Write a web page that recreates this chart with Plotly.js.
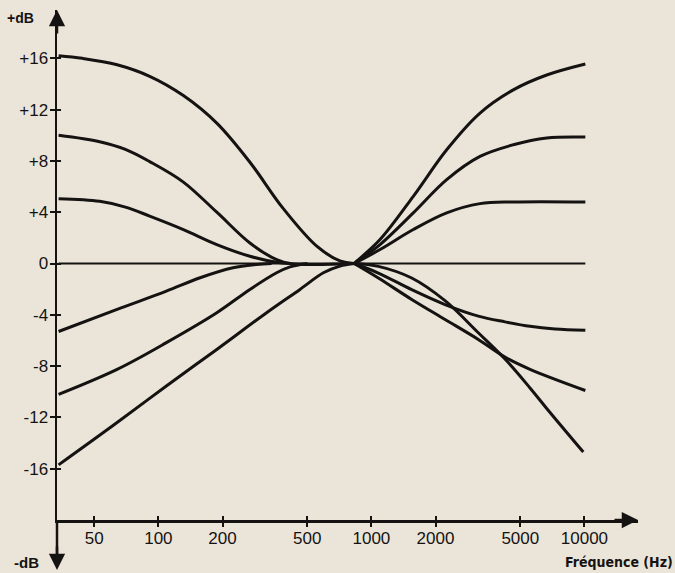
<!DOCTYPE html>
<html>
<head>
<meta charset="utf-8">
<script src="https://cdn.plot.ly/plotly-3.0.1.min.js"></script>
<style>
  html, body { margin: 0; padding: 0; background: #ebe5d9; }
  #chart { width: 675px; height: 573px; }
</style>
</head>
<body>
<div id="chart"></div>
<script>
// Frequency (Hz) and level (dB)
const flatF = [34, 10100];
const flatDb = [0, 0];

const bassP16F = [34, 44, 64, 91, 131, 188, 269, 385, 554, 712, 830];
const bassP16Db = [16.2, 16.0, 15.5, 14.6, 13.1, 10.95, 7.9, 4.3, 1.35, 0.2, 0];

const bassP10F = [34, 53, 70, 91, 131, 188, 269, 359, 415, 830];
const bassP10Db = [10.0, 9.5, 8.9, 7.95, 6.35, 4.0, 1.6, 0.3, 0, 0];

const bassP5F = [34, 53, 70, 91, 131, 188, 269, 359, 415];
const bassP5Db = [5.05, 4.85, 4.4, 3.7, 2.65, 1.48, 0.57, 0.1, 0];

const bassM5F = [34, 64, 109, 157, 224, 289, 340];
const bassM5Db = [-5.3, -3.58, -2.16, -1.11, -0.33, -0.08, 0];

const bassM10F = [34, 64, 109, 188, 269, 359, 415, 500];
const bassM10Db = [-10.2, -8.25, -6.17, -3.84, -2.02, -0.72, -0.26, 0];

const bassM16F = [34, 64, 109, 188, 322, 462, 595, 712, 830];
const bassM16Db = [-15.7, -12.4, -9.55, -6.7, -3.84, -2.02, -0.72, -0.2, 0];

const trebP16F = [830, 853, 1098, 1573, 2257, 3235, 4637, 6653, 10100];
const trebP16Db = [0, 0.18, 1.87, 5.24, 8.87, 11.73, 13.54, 14.7, 15.56];

const trebP10F = [830, 1098, 1573, 2257, 3235, 4637, 6653, 10100];
const trebP10Db = [0, 1.48, 3.95, 6.54, 8.35, 9.26, 9.79, 9.86];

const trebP5F = [830, 1098, 1573, 2257, 3235, 4637, 10100];
const trebP5Db = [0, 1.09, 2.65, 3.95, 4.67, 4.8, 4.8];

const trebM5F = [830, 1078, 1546, 2216, 3176, 4239, 5554, 7278, 10100];
const trebM5Db = [0, -0.74, -2.04, -3.2, -4.1, -4.55, -4.9, -5.1, -5.2];

const trebM10F = [830, 1078, 1546, 2216, 3176, 4239, 5554, 10100];
const trebM10Db = [0, -1.13, -2.8, -4.36, -5.92, -7.3, -8.25, -9.9];

const trebM16F = [830, 1078, 1546, 2216, 3176, 4239, 5554, 6653, 9881];
const trebM16Db = [0, -0.22, -1.13, -2.9, -5.4, -7.45, -9.7, -11.3, -14.7];

const xTickVals = [50, 100, 200, 500, 1000, 2000, 5000, 10000];
const xTickText = ['50', '100', '200', '500', '1000', '2000', '5000', '10000'];
const yTickVals = [-16, -12, -8, -4, 0, 4, 8, 12, 16];
const yTickText = ['-16', '-12', '-8', '-4', '0', '+4', '+8', '+12', '+16'];

const ink = '#151312';
const bg = '#ebe5d9';

function curve(x, y, w) {
  return {
    type: 'scatter', mode: 'lines', x: x, y: y,
    line: { color: ink, width: w, shape: 'spline', smoothing: 1 },
    hoverinfo: 'skip', showlegend: false
  };
}

const data = [
  curve(flatF, flatDb, 2),
  curve(bassP16F, bassP16Db, 3),
  curve(bassP10F, bassP10Db, 3),
  curve(bassP5F, bassP5Db, 3),
  curve(bassM5F, bassM5Db, 3),
  curve(bassM10F, bassM10Db, 3),
  curve(bassM16F, bassM16Db, 3),
  curve(trebP16F, trebP16Db, 3),
  curve(trebP10F, trebP10Db, 3),
  curve(trebP5F, trebP5Db, 3),
  curve(trebM5F, trebM5Db, 3),
  curve(trebM10F, trebM10Db, 3),
  curve(trebM16F, trebM16Db, 3),
  // invisible carrier for the overlay axes that draw the inner half of the cross ticks
  { type: 'scatter', mode: 'lines', x: flatF, y: flatDb, xaxis: 'x2', yaxis: 'y2',
    line: { width: 0, color: 'rgba(0,0,0,0)' }, hoverinfo: 'skip', showlegend: false }
];

const fam = 'Liberation Sans, Arial, sans-serif';
const tickFont = { family: fam, size: 17, color: ink };

const layout = {
  width: 675, height: 573,
  margin: { l: 57, r: 37, t: 10, b: 53 },
  paper_bgcolor: bg, plot_bgcolor: bg,
  showlegend: false,
  xaxis: {
    type: 'log', range: [1.524, 4.2516],
    tickvals: xTickVals, ticktext: xTickText,
    showgrid: false, zeroline: false,
    showline: true, linecolor: ink, linewidth: 2.5,
    ticks: 'outside', ticklen: 4, tickwidth: 2, tickcolor: ink,
    ticklabelstandoff: -3,
    tickfont: tickFont, fixedrange: true
  },
  yaxis: {
    range: [-20, 19.77],
    tickvals: yTickVals, ticktext: yTickText,
    showgrid: false, zeroline: false,
    showline: true, linecolor: ink, linewidth: 2.5,
    ticks: 'outside', ticklen: 5, tickwidth: 2, tickcolor: ink,
    ticklabelstandoff: -2,
    tickfont: tickFont, fixedrange: true
  },
  xaxis2: {
    type: 'log', range: [1.524, 4.2516], overlaying: 'x', anchor: 'y2', side: 'bottom',
    tickvals: xTickVals, showticklabels: false,
    showgrid: false, zeroline: false, showline: false,
    ticks: 'inside', ticklen: 4, tickwidth: 2, tickcolor: ink, fixedrange: true
  },
  yaxis2: {
    range: [-20, 19.77], overlaying: 'y', anchor: 'x2', side: 'left',
    tickvals: yTickVals, showticklabels: false,
    showgrid: false, zeroline: false, showline: false,
    ticks: 'inside', ticklen: 4, tickwidth: 2, tickcolor: ink, fixedrange: true
  },
  shapes: [
    { type: 'line', xref: 'paper', yref: 'paper', x0: 0, x1: 0, y0: 0, y1: -0.09,
      line: { color: ink, width: 2.5 } }
  ],
  annotations: [
    { xref: 'paper', yref: 'paper', x: 1.0, y: 0, ax: -25, ay: 0, text: '',
      showarrow: true, arrowhead: 2, arrowsize: 1.3, arrowwidth: 2.5, arrowcolor: ink },
    { xref: 'paper', yref: 'paper', x: 0, y: 1.0, ax: 0, ay: 25, text: '',
      showarrow: true, arrowhead: 2, arrowsize: 1.3, arrowwidth: 2.5, arrowcolor: ink },
    { xref: 'paper', yref: 'paper', x: 0, y: -0.098, ax: 0, ay: -25, text: '',
      showarrow: true, arrowhead: 2, arrowsize: 1.3, arrowwidth: 2.5, arrowcolor: ink },
    { xref: 'paper', yref: 'paper', x: -0.036, y: 0.985, xanchor: 'right', yanchor: 'middle',
      text: '<b>+dB</b>', showarrow: false,
      font: { family: fam, size: 14, color: ink } },
    { xref: 'paper', yref: 'paper', x: -0.028, y: -0.083, xanchor: 'right', yanchor: 'middle',
      text: '<b>-dB</b>', showarrow: false,
      font: { family: fam, size: 15, color: ink } },
    { xref: 'paper', yref: 'paper', x: 1.064, y: -0.083, xanchor: 'right', yanchor: 'middle',
      text: '<b>Fréquence (Hz)</b>', showarrow: false,
      font: { family: 'DejaVu Sans Condensed, DejaVu Sans, sans-serif', size: 14, color: ink } }
  ]
};

Plotly.newPlot('chart', data, layout, { staticPlot: true, displayModeBar: false });
</script>
</body>
</html>
